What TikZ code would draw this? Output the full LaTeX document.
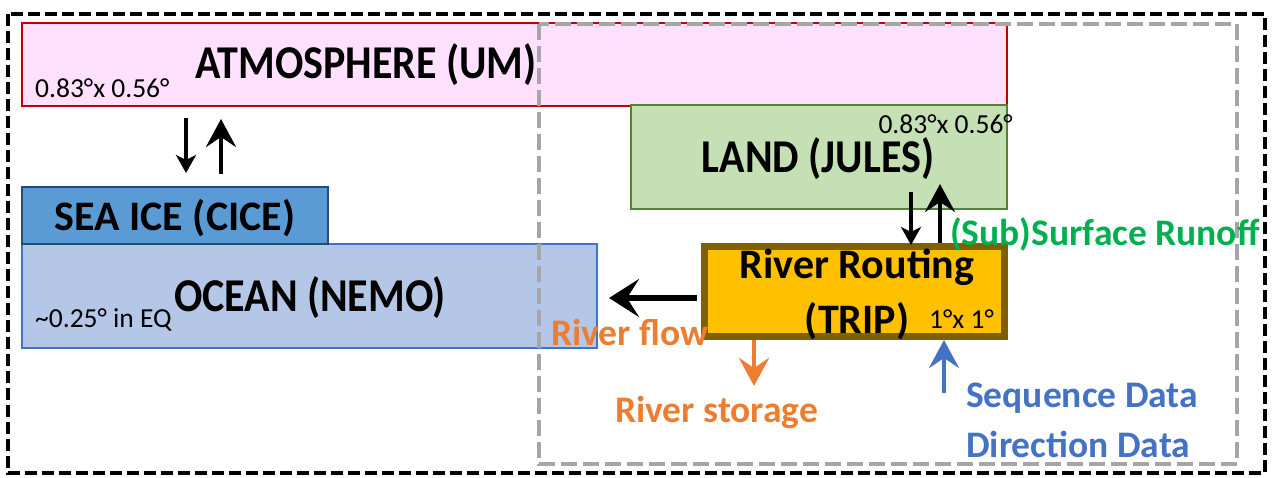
\documentclass[tikz,border=0pt]{standalone}
\usepackage{fontspec}
\setmainfont{Carlito}
\usetikzlibrary{arrows.meta}
\definecolor{atmfill}{HTML}{FFE1FF}
\definecolor{atmline}{HTML}{C00000}
\definecolor{landfill}{HTML}{C5E0B4}
\definecolor{landline}{HTML}{548235}
\definecolor{icefill}{HTML}{5B9BD5}
\definecolor{iceline}{HTML}{1F4E79}
\definecolor{oceanfill}{HTML}{B4C7E7}
\definecolor{oceanline}{HTML}{4472C4}
\definecolor{tripfill}{HTML}{FFC000}
\definecolor{tripline}{HTML}{7F6000}
\definecolor{runoffc}{HTML}{00B050}
\definecolor{orangec}{HTML}{ED7D31}
\definecolor{bluec}{HTML}{4472C4}
\definecolor{grayc}{HTML}{A6A6A6}
\newcommand{\tallbox}[1]{\scalebox{1}[1.12]{#1}}
\tikzset{
  box/.style={rectangle, anchor=north west, inner sep=0pt, outer sep=0pt},
  bigtxt/.style={font=\fontsize{42}{46}\selectfont\bfseries, inner sep=0pt, anchor=base},
  smalltxt/.style={font=\fontsize{27.5}{30}\selectfont, inner sep=0pt},
  coltxt/.style={font=\fontsize{37.5}{42}\selectfont\bfseries, inner sep=0pt, anchor=base west},
  smallhead/.style={line width=4.5pt, -{Stealth[length=18pt,width=20pt,inset=5pt]}},
  bighead/.style={line width=4.5pt, -{Stealth[length=28pt,width=30pt,inset=10pt]}},
}
\begin{document}
\begin{tikzpicture}[x=1pt,y=-1pt]
\useasboundingbox (0,0) rectangle (1273,477);
% boxes
\node[box, fill=atmfill, draw=atmline, line width=1.5pt, minimum width=985pt, minimum height=83pt] (atm) at (22,23) {};
\node[box, fill=landfill, draw=landline, line width=2pt, minimum width=376pt, minimum height=104pt] (land) at (631,105) {};
\node[box, fill=oceanfill, draw=oceanline, line width=2pt, minimum width=575pt, minimum height=104pt] (ocean) at (22,244) {};
\node[box, fill=icefill, draw=iceline, line width=2pt, minimum width=306pt, minimum height=57pt] (ice) at (22,187) {};
\node[box, fill=tripfill, draw=tripline, line width=7pt, minimum width=300pt, minimum height=90pt] (trip) at (704.5,246.5) {};
% dashed frames
\draw[grayc, line width=4pt, dash pattern=on 16pt off 6pt] (539,24) rectangle (1237,464);
\draw[black, line width=4pt, dash pattern=on 12pt off 5pt] (8,14) rectangle (1265,473);
% labels
\node[bigtxt] (atmlbl) at (366,78) {\tallbox{ATMOSPHERE (UM)}};
\node[smalltxt, anchor=base west] (atmres) at (35,97) {0.83°x 0.56°};
\node[bigtxt] (icelbl) at (175,230) {SEA ICE (CICE)};
\node[bigtxt] (oceanlbl) at (310,311) {\tallbox{OCEAN (NEMO)}};
\node[smalltxt, anchor=base west] (oceanres) at (35,327) {\textasciitilde0.25° in EQ};
\node[bigtxt] (landlbl) at (818,172) {\tallbox{LAND (JULES)}};
\node[smalltxt, anchor=base east] (landres) at (1013,133) {0.83°x 0.56°};
\node[bigtxt] (triplbl1) at (857,278) {River Routing};
\node[bigtxt] (triplbl2) at (857,333) {(TRIP)};
\node[smalltxt, anchor=base west] (tripres) at (929,328) {1°x 1°};
\node[coltxt, text=runoffc] (runoff) at (950,245) {(Sub)Surface Runoff};
\node[coltxt, text=orangec] (flow) at (551,345) {River flow};
\node[coltxt, text=orangec] (storage) at (615,422) {River storage};
\node[coltxt, text=bluec] (seq) at (966,407) {Sequence Data};
\node[coltxt, text=bluec] (dir) at (966,457) {Direction Data};
% arrow end points
\coordinate (a1s) at (186,118); \coordinate (a1e) at (186,173);
\coordinate (a2s) at (221,174); \coordinate (a2e) at (221,119);
\coordinate (l1s) at (911,192); \coordinate (l1e) at (911,245);
\coordinate (l2s) at (940,243); \coordinate (l2e) at (940,184);
\coordinate (fs) at (697,298); \coordinate (fe) at (609,298);
\coordinate (ss) at (754,340); \coordinate (se) at (754,386);
\coordinate (ds) at (944,393); \coordinate (de) at (944,340);
% arrows
\draw[smallhead] (a1s) -- (a1e);
\draw[bighead] (a2s) -- (a2e);
\draw[smallhead] (l1s) -- (l1e);
\draw[bighead] (l2s) -- (l2e);
\draw[line width=5.5pt, -{Stealth[length=30pt,width=38pt,inset=12pt]}] (fs) -- (fe);
\draw[bighead, draw=orangec, fill=orangec] (ss) -- (se);
\draw[bighead, draw=bluec, fill=bluec] (ds) -- (de);
\end{tikzpicture}
\end{document}
